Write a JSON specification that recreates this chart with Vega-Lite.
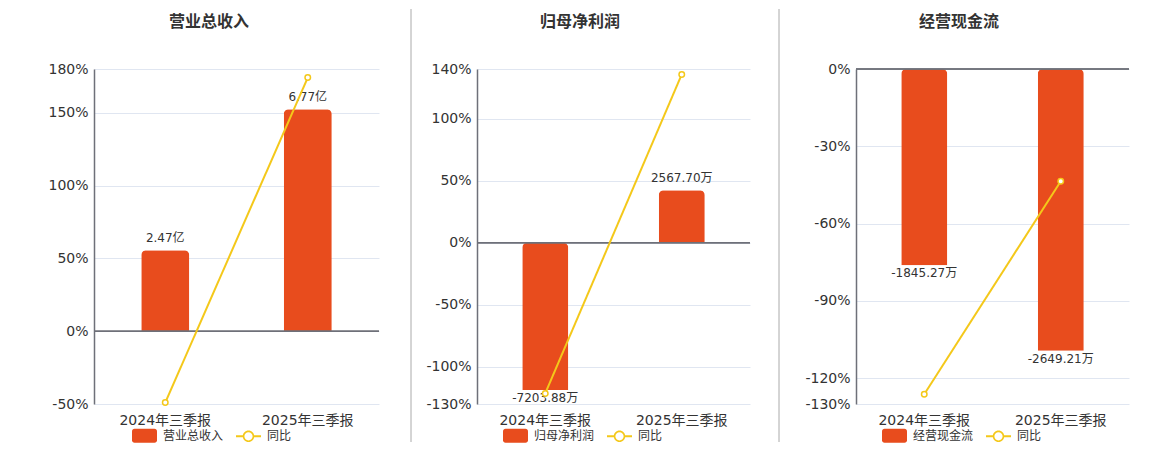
{
  "$schema": "https://vega.github.io/schema/vega-lite/v6.json",
  "padding": {"left": 47, "top": 8, "right": 0, "bottom": 0},
  "config": {
    "view": {"stroke": null},
    "font": "DejaVu Sans, Noto Sans CJK SC",
    "title": {"fontSize": 16, "fontWeight": "bold", "color": "#333333", "anchor": "middle", "frame": "group", "offset": 32},
    "axisX": {"title": null, "labelAngle": 0, "domain": false, "ticks": false, "grid": false, "labelFontSize": 14, "labelColor": "#333333", "labelPadding": 9},
    "axisY": {"title": null, "ticks": false, "labelFontSize": 14, "labelColor": "#333333", "labelPadding": 6, "gridColor": "#E0E6F1", "labelOverlap": false},
    "legend": {"title": null, "labelFontSize": 12, "labelColor": "#333333", "symbolSize": 625, "labelOffset": 6, "columnPadding": 12, "direction": "horizontal", "orient": "none"}
  },
  "resolve": {"scale": {"color": "independent", "y": "independent", "x": "independent"}, "legend": {"color": "independent"}},
  "spacing": 24,
  "hconcat": [
    {
      "spacing": 13,
      "resolve": {"scale": {"color": "independent", "y": "independent", "x": "independent"}, "legend": {"color": "independent"}},
      "hconcat": [
        {
          "spacing": 30,
          "resolve": {"scale": {"color": "independent", "y": "independent", "x": "independent"}, "legend": {"color": "independent"}},
          "hconcat": [
            {
              "title": {"text": "营业总收入", "dx": -27.5},
              "width": 285,
              "height": 335,
              "data": {"values": [
                {"period": "2024年三季报", "series": "营业总收入", "value": 2.47, "label": "2.47亿", "yoy": -49.0},
                {"period": "2025年三季报", "series": "营业总收入", "value": 6.77, "label": "6.77亿", "yoy": 174.09}
              ]},
              "resolve": {"scale": {"y": "independent"}},
              "layer": [
                {
                  "encoding": {
                    "x": {"field": "period", "type": "nominal", "scale": {"paddingInner": 0, "paddingOuter": 0}},
                    "y": {"field": "value", "type": "quantitative", "scale": {"domain": [-2.2222, 8], "nice": false, "zero": false},
                      "axis": {"orient": "left", "labels": false, "grid": false, "ticks": false, "domain": true, "domainColor": "#6E7079", "domainWidth": 1.5}}
                  },
                  "layer": [
                    {
                      "mark": {"type": "bar", "cornerRadiusEnd": 5, "width": {"band": 0.337}},
                      "encoding": {
                        "color": {"field": "series", "type": "nominal",
                          "scale": {"domain": ["营业总收入", "同比"], "range": ["#E84C1D", "#F4C81A"]},
                          "legend": {"legendX": 38, "legendY": 354, "symbolSize": 625,
                            "encode": {"symbols": {"update": {
                              "shape": {"signal": "datum.value === '同比' ? 'M-1,-0.08H-0.45V0.08H-1ZM0.45,-0.08H1V0.08H0.45ZM0.46,0A0.46,0.46 0 1 1 -0.46,0A0.46,0.46 0 1 1 0.46,0ZM0.33,0A0.33,0.33 0 1 0 -0.33,0A0.33,0.33 0 1 0 0.33,0Z' : 'M-0.8,-0.56H0.8A0.2,0.2 0 0 1 1,-0.36V0.36A0.2,0.2 0 0 1 0.8,0.56H-0.8A0.2,0.2 0 0 1 -1,0.36V-0.36A0.2,0.2 0 0 1 -0.8,-0.56Z'"},
                              "strokeWidth": {"value": 0},
                              "opacity": {"value": 1}
                            }}}
                          }
                        }
                      }
                    },
                    {
                      "transform": [{"filter": "datum.value >= 0"}],
                      "mark": {"type": "text", "baseline": "bottom", "dy": -5, "fontSize": 12, "color": "#333333"},
                      "encoding": {"text": {"field": "label"}}
                    },
                    {
                      "transform": [{"filter": "datum.value < 0"}],
                      "mark": {"type": "text", "baseline": "top", "dy": 3, "fontSize": 12, "color": "#333333"},
                      "encoding": {"text": {"field": "label"}}
                    }
                  ]
                },
                {
                  "layer": [
                    {
                      "mark": {"type": "rule", "color": "#6E7079", "strokeWidth": 1.5},
                      "encoding": {"y": {"datum": 0, "type": "quantitative"}}
                    },
                    {
                      "mark": {"type": "line", "strokeWidth": 2, "point": {"filled": false, "fill": "#ffffff", "size": 30, "strokeWidth": 1.5}},
                      "encoding": {
                        "x": {"field": "period", "type": "nominal", "scale": {"paddingInner": 0, "paddingOuter": 0}},
                        "y": {"field": "yoy", "type": "quantitative", "scale": {"domain": [-50, 180], "nice": false, "zero": false},
                          "axis": {"orient": "left", "values": [-50, 0, 50, 100, 150, 180], "labelExpr": "datum.value + '%'", "grid": true, "domain": false, "gridColor": "#E0E6F1"}},
                        "color": {"datum": "同比"}
                      }
                    }
                  ]
                }
              ]
            },
            {
              "width": 1,
              "height": 335,
              "data": {"values": [{"k": 0}]},
              "mark": {"type": "rule", "color": "#AAAAAA", "strokeWidth": 1},
              "encoding": {
                "x": {"datum": 0, "type": "quantitative", "scale": {"domain": [0, 1]}, "axis": null},
                "y": {"datum": 395, "type": "quantitative", "scale": {"domain": [0, 335], "nice": false, "zero": false}, "axis": null},
                "y2": {"datum": -38}
              }
            }
          ]
        },
        {
          "spacing": 27,
          "resolve": {"scale": {"color": "independent", "y": "independent", "x": "independent"}, "legend": {"color": "independent"}},
          "hconcat": [
            {
              "title": {"text": "归母净利润", "dx": -33.5},
              "width": 273,
              "height": 335,
              "data": {"values": [
                {"period": "2024年三季报", "series": "归母净利润", "value": -7203.88, "label": "-7203.88万", "yoy": -121.5},
                {"period": "2025年三季报", "series": "归母净利润", "value": 2567.70, "label": "2567.70万", "yoy": 135.64}
              ]},
              "resolve": {"scale": {"y": "independent"}},
              "layer": [
                {
                  "encoding": {
                    "x": {"field": "period", "type": "nominal", "scale": {"paddingInner": 0, "paddingOuter": 0}},
                    "y": {"field": "value", "type": "quantitative", "scale": {"domain": [-7893, 8500], "nice": false, "zero": false},
                      "axis": {"orient": "left", "labels": false, "grid": false, "ticks": false, "domain": true, "domainColor": "#6E7079", "domainWidth": 1.5}}
                  },
                  "layer": [
                    {
                      "mark": {"type": "bar", "cornerRadiusEnd": 5, "width": {"band": 0.337}},
                      "encoding": {
                        "color": {"field": "series", "type": "nominal",
                          "scale": {"domain": ["归母净利润", "同比"], "range": ["#E84C1D", "#F4C81A"]},
                          "legend": {"legendX": 26, "legendY": 354, "symbolSize": 625,
                            "encode": {"symbols": {"update": {
                              "shape": {"signal": "datum.value === '同比' ? 'M-1,-0.08H-0.45V0.08H-1ZM0.45,-0.08H1V0.08H0.45ZM0.46,0A0.46,0.46 0 1 1 -0.46,0A0.46,0.46 0 1 1 0.46,0ZM0.33,0A0.33,0.33 0 1 0 -0.33,0A0.33,0.33 0 1 0 0.33,0Z' : 'M-0.8,-0.56H0.8A0.2,0.2 0 0 1 1,-0.36V0.36A0.2,0.2 0 0 1 0.8,0.56H-0.8A0.2,0.2 0 0 1 -1,0.36V-0.36A0.2,0.2 0 0 1 -0.8,-0.56Z'"},
                              "strokeWidth": {"value": 0},
                              "opacity": {"value": 1}
                            }}}
                          }
                        }
                      }
                    },
                    {
                      "transform": [{"filter": "datum.value >= 0"}],
                      "mark": {"type": "text", "baseline": "bottom", "dy": -5, "fontSize": 12, "color": "#333333"},
                      "encoding": {"text": {"field": "label"}}
                    },
                    {
                      "transform": [{"filter": "datum.value < 0"}],
                      "mark": {"type": "text", "baseline": "top", "dy": 3, "fontSize": 12, "color": "#333333"},
                      "encoding": {"text": {"field": "label"}}
                    }
                  ]
                },
                {
                  "layer": [
                    {
                      "mark": {"type": "rule", "color": "#6E7079", "strokeWidth": 1.5},
                      "encoding": {"y": {"datum": 0, "type": "quantitative"}}
                    },
                    {
                      "mark": {"type": "line", "strokeWidth": 2, "point": {"filled": false, "fill": "#ffffff", "size": 30, "strokeWidth": 1.5}},
                      "encoding": {
                        "x": {"field": "period", "type": "nominal", "scale": {"paddingInner": 0, "paddingOuter": 0}},
                        "y": {"field": "yoy", "type": "quantitative", "scale": {"domain": [-130, 140], "nice": false, "zero": false},
                          "axis": {"orient": "left", "values": [-130, -100, -50, 0, 50, 100, 140], "labelExpr": "datum.value + '%'", "grid": true, "domain": false, "gridColor": "#E0E6F1"}},
                        "color": {"datum": "同比"}
                      }
                    }
                  ]
                }
              ]
            },
            {
              "width": 1,
              "height": 335,
              "data": {"values": [{"k": 0}]},
              "mark": {"type": "rule", "color": "#AAAAAA", "strokeWidth": 1},
              "encoding": {
                "x": {"datum": 0, "type": "quantitative", "scale": {"domain": [0, 1]}, "axis": null},
                "y": {"datum": 395, "type": "quantitative", "scale": {"domain": [0, 335], "nice": false, "zero": false}, "axis": null},
                "y2": {"datum": -38}
              }
            }
          ]
        }
      ]
    },
    {
      "title": {"text": "经营现金流", "dx": -33.5},
      "width": 273,
      "height": 335,
      "data": {"values": [
        {"period": "2024年三季报", "series": "经营现金流", "value": -1845.27, "label": "-1845.27万", "yoy": -126.2},
        {"period": "2025年三季报", "series": "经营现金流", "value": -2649.21, "label": "-2649.21万", "yoy": -43.57}
      ]},
      "resolve": {"scale": {"y": "independent"}},
      "layer": [
        {
          "encoding": {
            "x": {"field": "period", "type": "nominal", "scale": {"paddingInner": 0, "paddingOuter": 0}},
            "y": {"field": "value", "type": "quantitative", "scale": {"domain": [-3150, 0], "nice": false, "zero": false},
              "axis": {"orient": "left", "labels": false, "grid": false, "ticks": false, "domain": true, "domainColor": "#6E7079", "domainWidth": 1.5}}
          },
          "layer": [
            {
              "mark": {"type": "bar", "cornerRadiusEnd": 5, "width": {"band": 0.337}},
              "encoding": {
                "color": {"field": "series", "type": "nominal",
                  "scale": {"domain": ["经营现金流", "同比"], "range": ["#E84C1D", "#F4C81A"]},
                  "legend": {"legendX": 26, "legendY": 354, "symbolSize": 625,
                    "encode": {"symbols": {"update": {
                      "shape": {"signal": "datum.value === '同比' ? 'M-1,-0.08H-0.45V0.08H-1ZM0.45,-0.08H1V0.08H0.45ZM0.46,0A0.46,0.46 0 1 1 -0.46,0A0.46,0.46 0 1 1 0.46,0ZM0.33,0A0.33,0.33 0 1 0 -0.33,0A0.33,0.33 0 1 0 0.33,0Z' : 'M-0.8,-0.56H0.8A0.2,0.2 0 0 1 1,-0.36V0.36A0.2,0.2 0 0 1 0.8,0.56H-0.8A0.2,0.2 0 0 1 -1,0.36V-0.36A0.2,0.2 0 0 1 -0.8,-0.56Z'"},
                      "strokeWidth": {"value": 0},
                      "opacity": {"value": 1}
                    }}}
                  }
                }
              }
            },
            {
              "transform": [{"filter": "datum.value >= 0"}],
              "mark": {"type": "text", "baseline": "bottom", "dy": -5, "fontSize": 12, "color": "#333333"},
              "encoding": {"text": {"field": "label"}}
            },
            {
              "transform": [{"filter": "datum.value < 0"}],
              "mark": {"type": "text", "baseline": "top", "dy": 3, "fontSize": 12, "color": "#333333"},
              "encoding": {"text": {"field": "label"}}
            }
          ]
        },
        {
          "layer": [
            {
              "mark": {"type": "rule", "color": "#6E7079", "strokeWidth": 1.5},
              "encoding": {"y": {"datum": 0, "type": "quantitative"}}
            },
            {
              "mark": {"type": "line", "strokeWidth": 2, "point": {"filled": false, "fill": "#ffffff", "size": 30, "strokeWidth": 1.5}},
              "encoding": {
                "x": {"field": "period", "type": "nominal", "scale": {"paddingInner": 0, "paddingOuter": 0}},
                "y": {"field": "yoy", "type": "quantitative", "scale": {"domain": [-130, 0], "nice": false, "zero": false},
                  "axis": {"orient": "left", "values": [-130, -120, -90, -60, -30, 0], "labelExpr": "datum.value + '%'", "grid": true, "domain": false, "gridColor": "#E0E6F1"}},
                "color": {"datum": "同比"}
              }
            }
          ]
        }
      ]
    }
  ]
}
